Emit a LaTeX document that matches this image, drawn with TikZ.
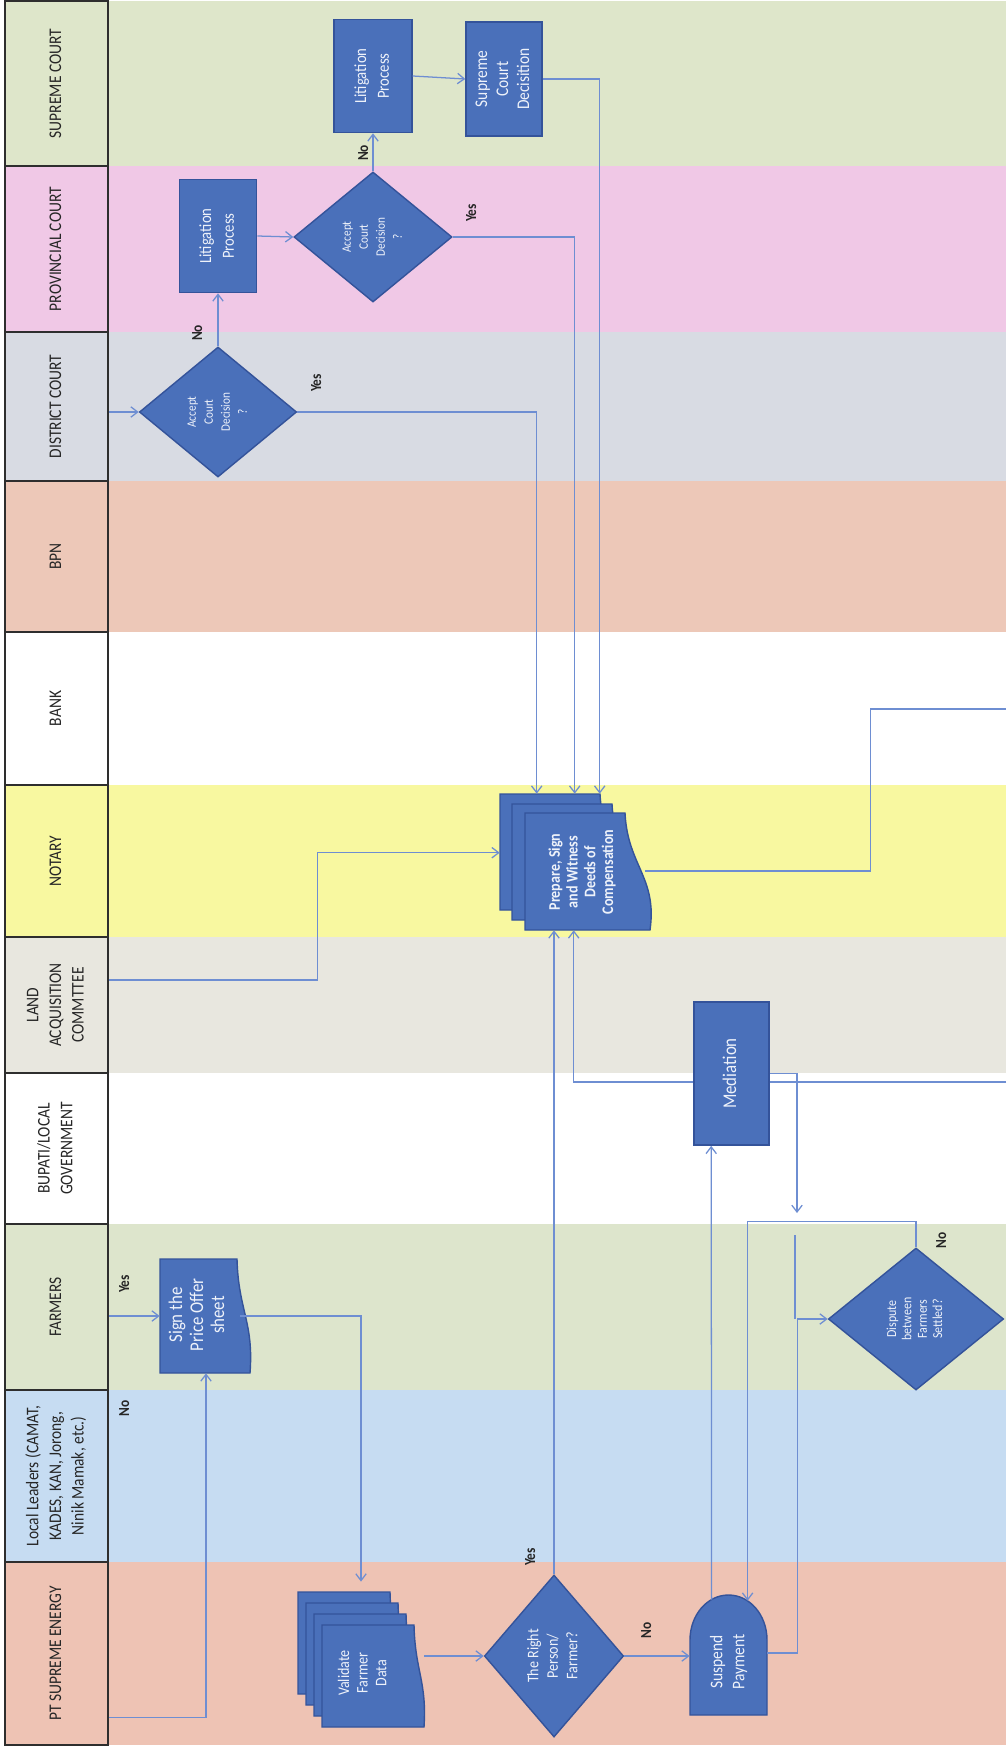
\documentclass[tikz,border=0pt]{standalone}
\usepackage{fontspec}
\setmainfont{Carlito}
\usepackage{graphicx}
\usetikzlibrary{shapes.geometric, arrows.meta, calc, fit}

\definecolor{lsup}{HTML}{DEE6CA}
\definecolor{lprov}{HTML}{F0C8E6}
\definecolor{ldist}{HTML}{D8DBE3}
\definecolor{lbpn}{HTML}{EDC8B8}
\definecolor{lbank}{HTML}{FFFFFF}
\definecolor{lnot}{HTML}{F8F8A0}
\definecolor{lland}{HTML}{E8E7DF}
\definecolor{lbup}{HTML}{FFFFFF}
\definecolor{lfarm}{HTML}{DDE5CC}
\definecolor{llocal}{HTML}{C6DCF2}
\definecolor{lpt}{HTML}{EEC3B4}
\definecolor{nodefill}{HTML}{4A70BA}
\definecolor{nodeedge}{HTML}{34539A}
\definecolor{nodetext}{HTML}{EEF2FA}
\definecolor{flowcol}{HTML}{6E8ED2}
\definecolor{cellline}{HTML}{2E2E2E}
\definecolor{labelcol}{HTML}{262626}

\newcommand{\vtext}[1]{\rotatebox{90}{\scalebox{1}[1.15]{\begin{tabular}{@{}c@{}}#1\end{tabular}}}}
% rotated document page: x, y, width, height, wave
\newcommand{\docpage}[5]{%
  \filldraw[pagefill] ({#1},{#2}) -- ({#1+#3},{#2})
    .. controls ({#1+#3+0.1*#5},{#2+0.45*#4}) and ({#1+#3+1.3*#5},{#2+0.55*#4}) .. ({#1+#3+#5},{#2+#4})
    -- ({#1},{#2+#4}) -- cycle;}

\tikzset{
  pagefill/.style={draw=nodeedge, fill=nodefill, line width=1pt},
  proc/.style={pagefill, text=nodetext, inner sep=0pt},
  decision/.style={proc, diamond},
  ghost/.style={inner sep=0pt},
  doctext/.style={text=nodetext, inner sep=0pt},
  flow/.style={draw=flowcol, line width=0.9pt, -{Straight Barb[length=1.7mm,width=2.6mm]}},
  flowline/.style={draw=flowcol, line width=0.9pt},
  yesno/.style={font=\fontsize{9.5}{9.5}\selectfont\bfseries, text=labelcol, inner sep=0pt},
  lanecell/.style={draw=cellline, line width=1.2pt, inner sep=0pt},
  lanetext/.style={font=\fontsize{11}{14}\selectfont, text=black!85, inner sep=0pt}
}

\begin{document}
\begin{tikzpicture}[x=0.025cm, y=-0.025cm]
\useasboundingbox (0,0) rectangle (1006,1747);

% lanes
\foreach \nm/\ytop/\ybot/\col/\txt in {
  hsup/1/166/lsup/{SUPREME COURT},
  hprov/166/332/lprov/{PROVINCIAL COURT},
  hdist/332/481/ldist/{DISTRICT COURT},
  hbpn/481/632/lbpn/{BPN},
  hbank/632/785/lbank/{BANK},
  hnot/785/937/lnot/{NOTARY},
  hland/937/1073/lland/{LAND\\ACQUISITION\\COMMTTEE},
  hbup/1073/1224/lbup/{BUPATI/LOCAL\\GOVERNMENT},
  hfarm/1224/1390/lfarm/{FARMERS},
  hlocal/1390/1562/llocal/{Local Leaders (CAMAT,\\KADES, KAN, Jorong,\\Ninik Mamak, etc.)},
  hpt/1562/1745/lpt/{PT SUPREME ENERGY}}
{
  \fill[\col] (5,\ytop) rectangle (1006,\ybot);
  \node[lanecell, fit={(5,\ytop) (108,\ybot)}] (\nm) {};
  \node[lanetext] (\nm-t) at (\nm.center) {\vtext{\txt}};
}

% courts
\node[proc, minimum width=1.95cm, minimum height=2.83cm, font=\fontsize{10.5}{14}\selectfont] (slit) at (373,76) {\vtext{Litigation\\Process}};
\node[proc, minimum width=1.9cm, minimum height=2.85cm, font=\fontsize{11}{13}\selectfont] (scdec) at (504,79) {\vtext{Supreme\\Court\\Decisition}};
\node[proc, minimum width=1.93cm, minimum height=2.83cm, font=\fontsize{10.5}{14}\selectfont] (plit) at (218,236) {\vtext{Litigation\\Process}};
\node[decision, minimum width=3.95cm, minimum height=3.25cm, font=\fontsize{8}{10.5}\selectfont] (pcdec) at (373,237) {\vtext{Accept\\Court\\Decision\\?}};
\node[decision, minimum width=3.93cm, minimum height=3.25cm, font=\fontsize{8}{10.5}\selectfont] (dcdec) at (218,412) {\vtext{Accept\\Court\\Decision\\?}};

% notary
\docpage{500}{794}{100}{116}{25}
\docpage{512}{804}{100}{116}{25}
\docpage{525}{813}{100}{117}{25}
\node[ghost, minimum width=3.75cm, minimum height=3.4cm] (deeds) at (575,862) {};
\node[doctext, font=\fontsize{10}{11}\selectfont\bfseries] (deeds-t) at (583,872) {\vtext{Prepare, Sign\\and Witness\\Deeds of\\Compensation}};

% farmers and PT
\docpage{160}{1259}{77}{114}{13}
\node[ghost, minimum width=2.3cm, minimum height=2.85cm] (sign) at (206,1316) {};
\node[doctext, font=\fontsize{12}{13}\selectfont] (sign-t) at (199,1315) {\vtext{Sign the\\Price Offer\\sheet}};

\foreach \k in {0,...,3}
  \docpage{298+8*\k}{1592+11*\k}{92}{102}{10};
\node[ghost, minimum width=3.15cm, minimum height=3.38cm] (valid) at (361,1659.5) {};
\node[doctext, font=\fontsize{10}{11.5}\selectfont] (valid-t) at (364,1673) {\vtext{Validate\\Farmer\\Data}};

\node[decision, minimum width=3.48cm, minimum height=4.05cm, font=\fontsize{10}{12}\selectfont] (rp) at (554,1656) {\vtext{The Right\\Person/\\Farmer?}};

\filldraw[pagefill] (690,1715) -- (690,1640) .. controls (690,1615) and (707.2,1595) .. (728.5,1595)
  .. controls (749.8,1595) and (767,1615) .. (767,1640) -- (767,1715) -- cycle;
\node[ghost, minimum width=1.93cm, minimum height=3cm] (susp) at (728.5,1655) {};
\node[doctext, font=\fontsize{11}{13.5}\selectfont] (susp-t) at (729,1662) {\vtext{Suspend\\Payment}};

% line running behind the mediation box
\coordinate (medback) at (1006,1082);
\draw[flow] (medback) -| ($(deeds.south west)+(74,0)$);

\node[proc, minimum width=1.88cm, minimum height=3.58cm, font=\fontsize{12}{14}\selectfont] (med) at (731.5,1073.5) {\vtext{Mediation}};
\node[decision, minimum width=4.38cm, minimum height=3.55cm, font=\fontsize{8.5}{9.5}\selectfont] (dd) at (916,1319) {\vtext{Dispute\\between\\Farmers\\Settled?}};

% connectors
\draw[flow] (hdist.east |- dcdec.west) -- (dcdec.west);
\draw[flow] (dcdec.north) -- (plit.south);
\draw[flow] (plit.east) -- (pcdec.west);
\draw[flow] (pcdec.north) -- (slit.south);
\draw[flow] (slit.east) -- (scdec.west);
\draw[flow] (dcdec.east) -| ($(deeds.north west)+(37,0)$);
\draw[flow] (pcdec.east) -| ($(deeds.north west)+(75,0)$);
\draw[flow] (scdec.east) -| ($(deeds.north west)+(100,0)$);
\draw[flow] ($(hland.east)+(0,-25)$) -- ++(209,0) |- ($(deeds.north west)+(0,59)$);

\coordinate (bankout) at (1006,709);
\draw[flowline] ($(deeds.east)+(-5,9)$) -- ++(225,0) |- (bankout);

\draw[flow] (hfarm.east |- sign.west) -- (sign.west);
\draw[flow] ($(hpt.east)+(0,64)$) -| (sign.south);
\draw[flow, shorten >=0.25cm] ($(sign.east)+(-12,0)$) -| (valid.north);
\draw[flow] (valid.east |- rp.west) -- (rp.west);
\draw[flow] (rp.north) -- (rp.north |- deeds.south);
\draw[flow] (rp.east) -- (rp.east -| susp.west);
\draw[flow] ($(susp.north west)+(22,5)$) -- ($(med.south west)+(18,0)$);

\coordinate (medend) at (797,1213);
\draw[flow] (med.east) -| (medend);
\draw[flow] (dd.north) -- ++(0,-26) -| ($(susp.north west)+(58,6)$);
\draw[flow] ($(susp.east)+(0,-2)$) -- ++(30,0) |- (dd.west);
\coordinate (stub) at (795,1235);
\draw[flowline] (stub) -- (stub |- dd.west);

% yes / no labels
\node[yesno] (dno) at (199,333) {\vtext{No}};
\node[yesno] (pno) at (365,153) {\vtext{No}};
\node[yesno] (dyes) at (318,383) {\vtext{Yes}};
\node[yesno] (pyes) at (473,213) {\vtext{Yes}};
\node[yesno] (fyes) at (126,1284) {\vtext{Yes}};
\node[yesno] (lno) at (126,1408) {\vtext{No}};
\node[yesno] (ryes) at (532,1557) {\vtext{Yes}};
\node[yesno] (rno) at (648,1630) {\vtext{No}};
\node[yesno] (ddno) at (943,1240) {\vtext{No}};
\end{tikzpicture}
\end{document}
